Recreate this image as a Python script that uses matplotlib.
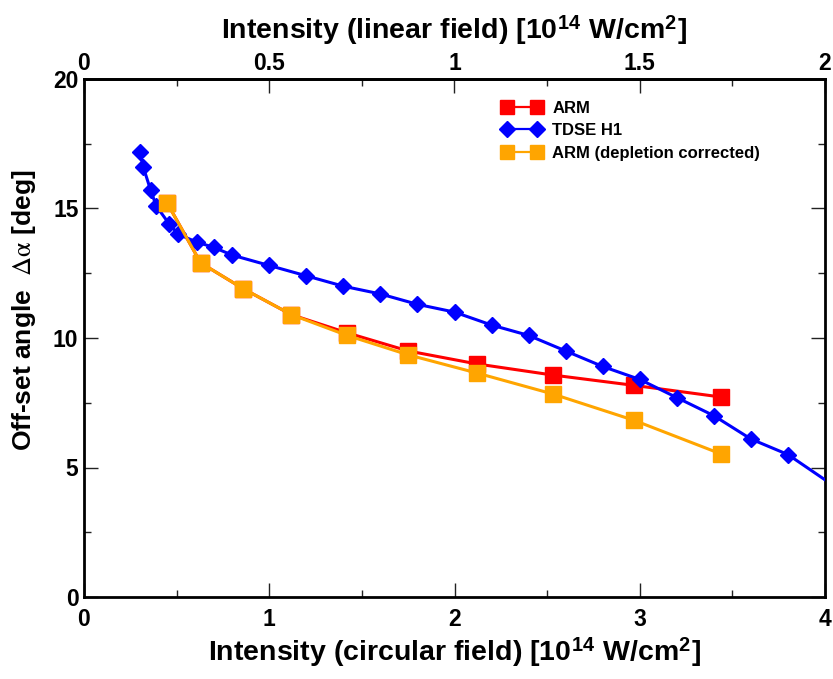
import matplotlib
matplotlib.use("Agg")
import matplotlib.pyplot as plt
from matplotlib.ticker import MultipleLocator

# ---- data ----
tdse_x = [0.30, 0.32, 0.36, 0.39, 0.46, 0.51, 0.61, 0.70, 0.80, 1.0, 1.2, 1.4, 1.6, 1.8, 2.0,
          2.2, 2.4, 2.6, 2.8, 3.0, 3.2, 3.4, 3.6, 3.8, 4.2]
tdse_y = [17.2, 16.6, 15.7, 15.1, 14.4, 14.0, 13.7, 13.5, 13.2, 12.8, 12.4, 12.0, 11.7, 11.3, 11.0,
          10.5, 10.1, 9.5, 8.9, 8.4, 7.7, 7.0, 6.1, 5.5, 3.55]
arm_x = [0.45, 0.63, 0.86, 1.12, 1.42, 1.75, 2.12, 2.53, 2.97, 3.44]
arm_y = [15.2, 12.9, 11.9, 10.9, 10.2, 9.5, 9.0, 8.57, 8.17, 7.72]
armc_x = [0.45, 0.63, 0.86, 1.12, 1.42, 1.75, 2.12, 2.53, 2.97, 3.44]
armc_y = [15.2, 12.9, 11.9, 10.9, 10.1, 9.35, 8.65, 7.84, 6.82, 5.52]

labels = ["ARM", "TDSE H1", "ARM (depletion corrected)"]
x_ticks = [0, 1, 2, 3, 4]
top_ticks = [0, 0.5, 1, 1.5, 2]
top_ticklabels = ['0', '0.5', '1', '1.5', '2']
y_ticks = [0, 5, 10, 15, 20]

plt.rcParams['mathtext.fontset'] = 'stix'
sans = ['Liberation Sans', 'DejaVu Sans']

W, H = 833, 679
fig = plt.figure(figsize=(W / 100, H / 100), dpi=100)
ax = fig.add_axes([84 / W, 1 - 597 / H, (825 - 84) / W, (597 - 79) / H])

l1, = ax.plot(arm_x, arm_y, color='#ff0000', lw=2.2, marker='s', ms=11, mec='#ff0000', zorder=3)
l2, = ax.plot(tdse_x, tdse_y, color='#0000ff', lw=2.2, marker='D', ms=8.5, mec='#0000ff', zorder=4)
l3, = ax.plot(armc_x, armc_y, color='#ffa500', lw=2.2, marker='s', ms=11, mec='#ffa500', zorder=5)

ax.set_xlim(0, 4)
ax.set_ylim(0, 20)
ax.set_xticks(x_ticks)
ax.set_yticks(y_ticks)
ax.xaxis.set_minor_locator(MultipleLocator(0.5))
ax.yaxis.set_minor_locator(MultipleLocator(2.5))
ax.tick_params(which='both', direction='in', top=False, right=True, width=1.0, color='#222222')
ax.tick_params(which='major', length=10)
ax.tick_params(which='minor', length=5)
ax.tick_params(axis='x', pad=8)
ax.tick_params(axis='y', pad=4)
for s in ax.spines.values():
    s.set_linewidth(2)

for t in ax.get_xticklabels():
    t.set_family(sans); t.set_fontweight('bold'); t.set_fontsize(16.5)
for t in ax.get_yticklabels():
    t.set_family(sans); t.set_fontweight('bold'); t.set_fontsize(16.5)

ax.set_xlabel(r"Intensity (circular field) [10$^{\mathregular{14}}$ W/cm$^{\mathregular{2}}$]",
              family=sans, fontweight='bold', fontsize=20.5, labelpad=3)

fig.text(24 / W, 1 - 310 / H, r"Off-set angle  $\mathrm{\Delta\alpha}$ [deg]",
         rotation=90, ha='center', va='center',
         family=sans, fontweight='bold', fontsize=19)

sec = ax.secondary_xaxis('top', functions=(lambda x: x / 2, lambda x: x * 2))
sec.xaxis.set_minor_locator(MultipleLocator(0.25))
sec.tick_params(which='both', direction='in', width=1.0, color='#222222', pad=3)
sec.tick_params(which='major', length=10)
sec.tick_params(which='minor', length=5)
sec.spines['top'].set_linewidth(2)
sec.set_xticks(top_ticks)
sec.set_xticklabels(top_ticklabels, family=sans, fontweight='bold', fontsize=16.5)
sec.set_xlabel(r"Intensity (linear field) [10$^{\mathregular{14}}$ W/cm$^{\mathregular{2}}$]",
               family=sans, fontweight='bold', fontsize=20.5, labelpad=9)

leg = ax.legend([l1, l2, l3], labels, loc='upper left',
                bbox_to_anchor=((502.5 - 84) / 741, (597 - 100.6) / 518),
                frameon=False, numpoints=2, handlelength=2.4, markerscale=0.95,
                borderpad=0, borderaxespad=0,
                prop={'family': sans, 'weight': 'bold', 'size': 12}, labelspacing=0.46,
                handletextpad=0.6)
for h in leg.legend_handles:
    h.set_linewidth(1.6)

fig.savefig("out.png", dpi=100)
